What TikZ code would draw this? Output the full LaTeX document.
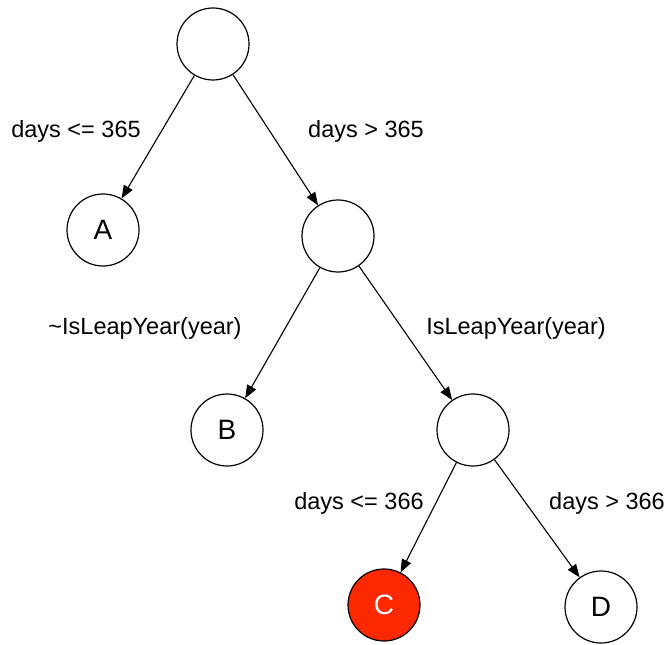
\documentclass[tikz,border=0pt]{standalone}
\usepackage{fontspec}
\setmainfont{Liberation Sans}
\usetikzlibrary{arrows.meta}
\begin{document}
\begin{tikzpicture}[x=1pt,y=-1pt,
  state/.style={circle,draw,line width=1.2pt,minimum size=72pt,inner sep=0pt,
    font=\fontsize{28}{32}\selectfont},
  hot/.style={state,fill={rgb,255:red,252;green,40;blue,0},text=white},
  edge/.style={line width=1.1pt,-{Triangle[length=13pt,width=10pt]}},
  lbl/.style={font=\fontsize{23.5}{28}\selectfont,inner sep=0pt}]
\useasboundingbox (0,0) rectangle (668,644);
% decision tree nodes
\node[state] (root) at (213,44) {};
\node[state] (A) at (103,230) {A};
\node[state] (n2) at (338,236) {};
\node[state] (B) at (227,430) {B};
\node[state] (n3) at (473,430) {};
\node[hot] (C) at (384,605) {C};
\node[state] (D) at (601,607) {D};
% branches
\draw[edge] (root) -- (A);
\draw[edge] (root) -- (n2);
\draw[edge] (n2) -- (B);
\draw[edge] (n2) -- (n3);
\draw[edge] (n3) -- (C);
\draw[edge] (n3) -- (D);
% branch conditions
\node[lbl] (l1) at (76,131) {days <= 365};
\node[lbl] (l2) at (366,131) {days > 365};
\node[lbl] (l3) at (145,328) {\char`\~IsLeapYear(year)};
\node[lbl] (l4) at (516,328) {IsLeapYear(year)};
\node[lbl] (l5) at (359,503) {days <= 366};
\node[lbl] (l6) at (607,503) {days > 366};
\end{tikzpicture}
\end{document}
